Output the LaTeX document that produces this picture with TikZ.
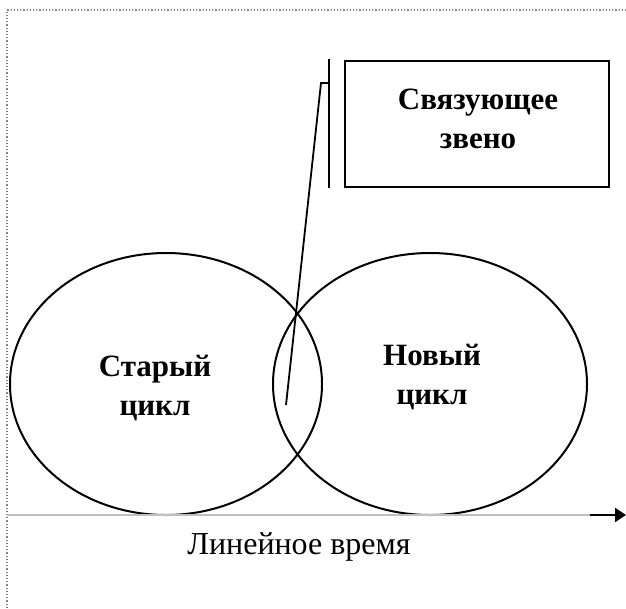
\documentclass[tikz,border=0pt]{standalone}
\usepackage{fontspec}
\setmainfont{Liberation Serif}
\usetikzlibrary{arrows.meta,shapes.geometric}
\begin{document}
\begin{tikzpicture}[x=1pt,y=-1pt,
  shape line/.style={draw=black,line width=2pt},
  cycle/.style={shape line,ellipse,inner sep=0pt,minimum height=262pt},
  lbl/.style={font=\bfseries\fontsize{31}{39}\selectfont,align=center,inner sep=0pt},
  frame line/.style={draw=gray,dotted,line width=1.2pt}]
\useasboundingbox (0,0) rectangle (626,608);
\draw[frame line] (7,608) -- (7,10) -- (626,10);
% ellipses
\node[cycle,minimum width=312pt] (oldc) at (166,384) {};
\node[cycle,minimum width=314pt] (newc) at (430,384) {};
\node[lbl] (old) at (155,388) {Старый\\цикл};
\node[lbl] (new) at (432,377) {Новый\\цикл};
% box
\node[shape line,minimum width=264pt,minimum height=126pt,inner sep=0pt] (box) at (477,124) {};
\node[lbl] (boxt) at (478,119) {Связующее\\звено};
\coordinate (vt) at (329,59);
\coordinate (vb) at (329,188);
\draw[line width=2pt] (vt) -- (vb);
\coordinate (k0) at (329,83);
\coordinate (k) at (321,83);
\coordinate (tip) at (286,405);
\draw[line width=1.8pt] (k0) -- (k) -- (tip);
% axis
\coordinate (a0) at (7,515);
\coordinate (a1) at (590,515);
\coordinate (a2) at (626,515);
\draw[gray!50,line width=1.5pt] (a0) -- (a1);
\draw[line width=2pt,-{Triangle[length=11pt,width=14pt]}] (a1) -- (a2);
\node[font=\fontsize{32}{36}\selectfont,inner sep=0pt] (time) at (299,547) {Линейное время};
\end{tikzpicture}
\end{document}
